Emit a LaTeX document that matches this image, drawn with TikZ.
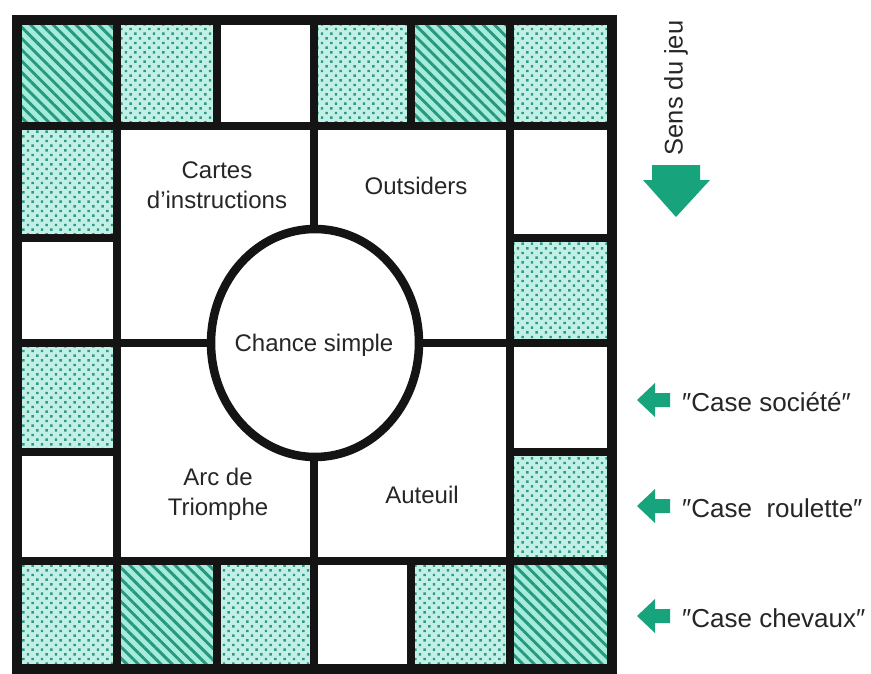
\documentclass[tikz,border=0pt]{standalone}
\usepackage{fontspec}
\setmainfont{Liberation Sans}
\newfontfamily\plainsans{Liberation Sans}
\usetikzlibrary{patterns.meta}
\definecolor{pale}{HTML}{C2F0E6}
\definecolor{dotc}{HTML}{2E9A84}
\definecolor{hatbg}{HTML}{A6ECDD}
\definecolor{hatc}{HTML}{27977E}
\definecolor{arrowc}{HTML}{17A37B}
\definecolor{inkc}{HTML}{141414}
\begin{document}
\begin{tikzpicture}[x=1pt,y=-1pt,
  dotcell/.style={fill=pale, postaction={pattern={Dots[radius=1.7pt, distance=6.6pt, angle=45]}, pattern color=dotc}},
  hatchcell/.style={fill=hatbg, postaction={pattern={Lines[angle=-45, distance=8pt, line width=2.9pt]}, pattern color=hatc}},
  whitecell/.style={fill=white},
  gridline/.style={draw=inkc, line width=7.5pt},
  border/.style={draw=inkc, line width=10pt, line join=miter},
  boardtext/.style={font=\fontsize{24}{30}\selectfont, text=black!85, align=center, inner sep=0pt},
  legendtext/.style={font=\plainsans\fontsize{26}{30}\selectfont, text=black!85, anchor=west, inner sep=0pt},
  greenarrow/.style={fill=arrowc, draw=none}
]
\useasboundingbox (0,0) rectangle (871,673);
\fill[white] (0,0) rectangle (871,673);

% cells: top row
\foreach \xa/\xb/\sty in {17/117/hatchcell,117/217/dotcell,217/314/whitecell,314/411/dotcell,411/510/hatchcell,510/612/dotcell}
  \path[\sty] (\xa,20) rectangle (\xb,126);
% bottom row
\foreach \xa/\xb/\sty in {17/117/dotcell,117/217/hatchcell,217/314/dotcell,314/411/whitecell,411/510/dotcell,510/612/hatchcell}
  \path[\sty] (\xa,561) rectangle (\xb,669);
% left column
\foreach \ya/\yb/\sty in {126/238/dotcell,238/343/whitecell,343/452/dotcell,452/561/whitecell}
  \path[\sty] (17,\ya) rectangle (117,\yb);
% right column
\foreach \ya/\yb/\sty in {126/238/whitecell,238/343/dotcell,343/452/whitecell,452/561/dotcell}
  \path[\sty] (510,\ya) rectangle (612,\yb);

% grid lines
\draw[gridline] (117,20) -- (117,669);
\draw[gridline] (510,20) -- (510,669);
\draw[gridline] (17,126) -- (612,126);
\draw[gridline] (17,561) -- (612,561);
\foreach \x in {217,411} {
  \draw[gridline] (\x,20) -- (\x,126);
  \draw[gridline] (\x,561) -- (\x,669);
}
\draw[gridline] (314,20) -- (314,669);
\foreach \y in {238,452} {
  \draw[gridline] (17,\y) -- (117,\y);
  \draw[gridline] (510,\y) -- (612,\y);
}
\draw[gridline] (17,343) -- (612,343);

% central ellipse
\draw[draw=inkc, line width=8.5pt, fill=white] (315,343) ellipse [x radius=104, y radius=114];
\node[boardtext] (chance) at (314,345) {Chance simple};

% outer border
\draw[border] (17,20) rectangle (612,669);

% board texts
\node[boardtext] (cartes) at (217,185) {Cartes\\d’instructions};
\node[boardtext] (outsiders) at (416,186) {Outsiders};
\node[boardtext] (arc) at (218,494) {Arc de\\Triomphe};
\node[boardtext] (auteuil) at (422,495) {Auteuil};

% direction of play
\node[boardtext, font=\fontsize{25.5}{30}\selectfont, rotate=90] (sens) at (676,88) {Sens du jeu};
\fill[greenarrow] (652,165) -- (700,165) -- (700,180) -- (710,180) -- (676,217) -- (643,180) -- (652,180) -- cycle;

% legend arrows and texts
\foreach \yy/\nm/\txt in {400/soc/″Case société″,506/rou/″Case\ \ roulette″,616/che/″Case chevaux″} {
  \fill[greenarrow] (637,\yy) -- (655,\yy-17) -- (655,\yy-7) -- (670,\yy-7) -- (670,\yy+7) -- (655,\yy+7) -- (655,\yy+17) -- cycle;
  \node[legendtext] (\nm) at (682,\yy+2) {\txt};
}
\end{tikzpicture}
\end{document}
